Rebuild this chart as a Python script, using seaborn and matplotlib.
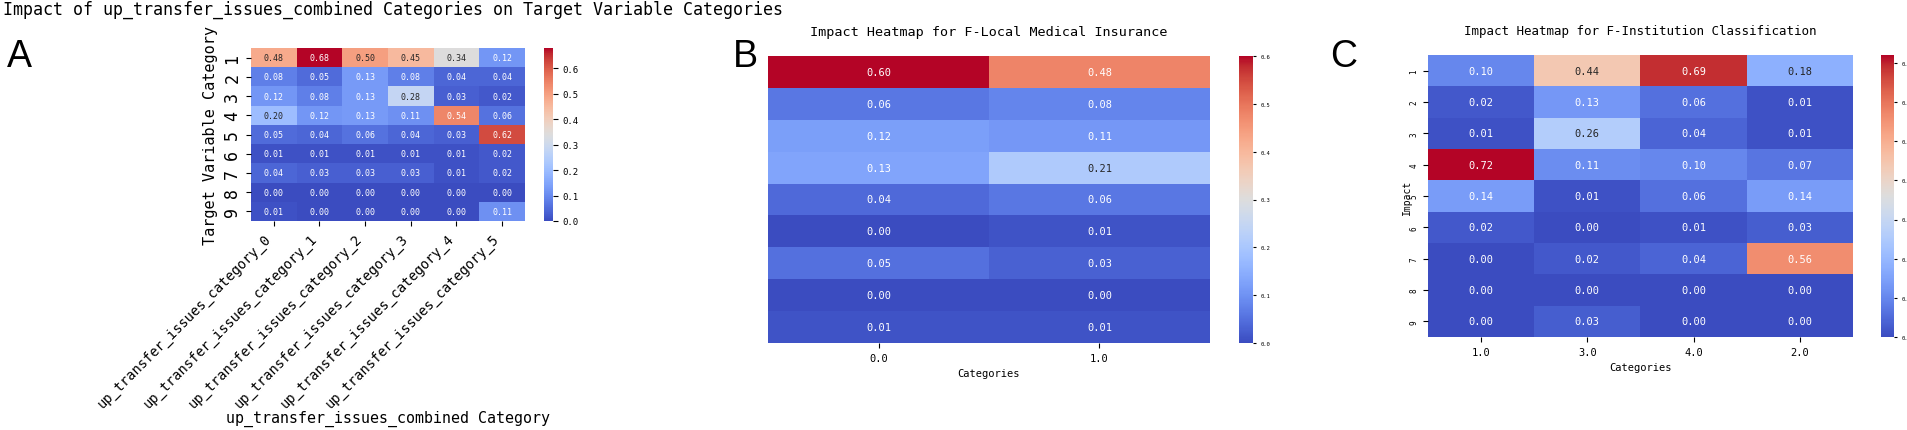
import numpy as np
import pandas as pd
import matplotlib
matplotlib.use("Agg")
import matplotlib.pyplot as plt
import seaborn as sns

plt.rcParams['font.family'] = ['DejaVu Sans Mono', 'DejaVu Sans']

# panel A data
a_rows = [1, 2, 3, 4, 5, 6, 7, 8, 9]
a_cols = ["up_transfer_issues_category_0", "up_transfer_issues_category_1",
          "up_transfer_issues_category_2", "up_transfer_issues_category_3",
          "up_transfer_issues_category_4", "up_transfer_issues_category_5"]
a_vals = [
    [0.48, 0.68, 0.50, 0.45, 0.34, 0.12],
    [0.08, 0.05, 0.13, 0.08, 0.04, 0.04],
    [0.12, 0.08, 0.13, 0.28, 0.03, 0.02],
    [0.20, 0.12, 0.13, 0.11, 0.54, 0.06],
    [0.05, 0.04, 0.06, 0.04, 0.03, 0.62],
    [0.01, 0.01, 0.01, 0.01, 0.01, 0.02],
    [0.04, 0.03, 0.03, 0.03, 0.01, 0.02],
    [0.00, 0.00, 0.00, 0.00, 0.00, 0.00],
    [0.01, 0.00, 0.00, 0.00, 0.00, 0.11],
]

# panel B data
b_cols = ["0.0", "1.0"]
b_col0 = [0.60, 0.06, 0.12, 0.13, 0.04, 0.00, 0.05, 0.00, 0.01]
b_col1 = [0.48, 0.08, 0.11, 0.21, 0.06, 0.01, 0.03, 0.00, 0.01]

# panel C data
c_rows = [1, 2, 3, 4, 5, 6, 7, 8, 9]
c_cols = ["1.0", "3.0", "4.0", "2.0"]
c_vals = [
    [0.10, 0.44, 0.69, 0.18],
    [0.02, 0.13, 0.06, 0.01],
    [0.01, 0.26, 0.04, 0.01],
    [0.72, 0.11, 0.10, 0.07],
    [0.14, 0.01, 0.06, 0.14],
    [0.02, 0.00, 0.01, 0.03],
    [0.00, 0.02, 0.04, 0.56],
    [0.00, 0.00, 0.00, 0.00],
    [0.00, 0.03, 0.00, 0.00],
]

W, H = 1908, 431
fig = plt.figure(figsize=(W / 100, H / 100), dpi=100)


def box(x0, x1, y0, y1):
    # pixel box -> figure fraction
    return [x0 / W, 1 - y1 / H, (x1 - x0) / W, (y1 - y0) / H]


# ---- A ----
df_a = pd.DataFrame(a_vals, index=a_rows, columns=a_cols)
ax_a = fig.add_axes(box(251, 525, 49, 222))
cax_a = fig.add_axes(box(544, 553, 49, 222))
sns.heatmap(df_a, ax=ax_a, cbar_ax=cax_a, cmap="coolwarm", annot=True, fmt=".2f",
            annot_kws={"size": 6})
ax_a.set_xticklabels(a_cols, rotation=45, ha="right", fontsize=9.8)
ax_a.set_yticklabels(a_rows, rotation=90, va="center", fontsize=12)
ax_a.set_xlabel("up_transfer_issues_combined Category", fontsize=10.8, labelpad=0)
ax_a.set_ylabel("Target Variable Category", fontsize=11)
cax_a.tick_params(labelsize=6.5)
fig.text(3 / W, 1 - 1 / H, "Impact of up_transfer_issues_combined Categories on Target Variable Categories",
         fontsize=12, ha="left", va="top")

# ---- B ----
df_b = pd.DataFrame({"0.0": b_col0, "1.0": b_col1}, index=a_rows)
ax_b = fig.add_axes(box(768, 1210, 57, 344))
cax_b = fig.add_axes(box(1239, 1253, 57, 344))
sns.heatmap(df_b, ax=ax_b, cbar_ax=cax_b, cmap="coolwarm", annot=True, fmt=".2f",
            annot_kws={"size": 7.5}, yticklabels=False)
ax_b.set_xticklabels(b_cols, rotation=0, fontsize=7.5)
ax_b.set_xlabel("Categories", fontsize=7.5)
ax_b.set_title("Impact Heatmap for F-Local Medical Insurance", fontsize=9.7, pad=15)
cax_b.tick_params(labelsize=4, length=2)

# ---- C ----
df_c = pd.DataFrame(c_vals, index=c_rows, columns=c_cols)
ax_c = fig.add_axes(box(1428, 1853, 56, 338))
cax_c = fig.add_axes(box(1881, 1894, 56, 338))
sns.heatmap(df_c, ax=ax_c, cbar_ax=cax_c, cmap="coolwarm", annot=True, fmt=".2f",
            annot_kws={"size": 7.5})
ax_c.set_xticklabels(c_cols, rotation=0, fontsize=7.5)
ax_c.set_yticklabels(c_rows, rotation=90, va="center", fontsize=5.5)
ax_c.set_xlabel("Categories", fontsize=7.5)
ax_c.set_ylabel("Impact", fontsize=7, labelpad=-2)
ax_c.set_title("Impact Heatmap for F-Institution Classification", fontsize=9, pad=15)
cax_c.tick_params(labelsize=4, length=2)

# panel letters
for lab, x in [("A", 7), ("B", 733), ("C", 1330)]:
    fig.text(x / W, 1 - 39 / H, lab, fontsize=27, family="Liberation Sans", ha="left", va="top")

fig.savefig("out.png", dpi=100)
